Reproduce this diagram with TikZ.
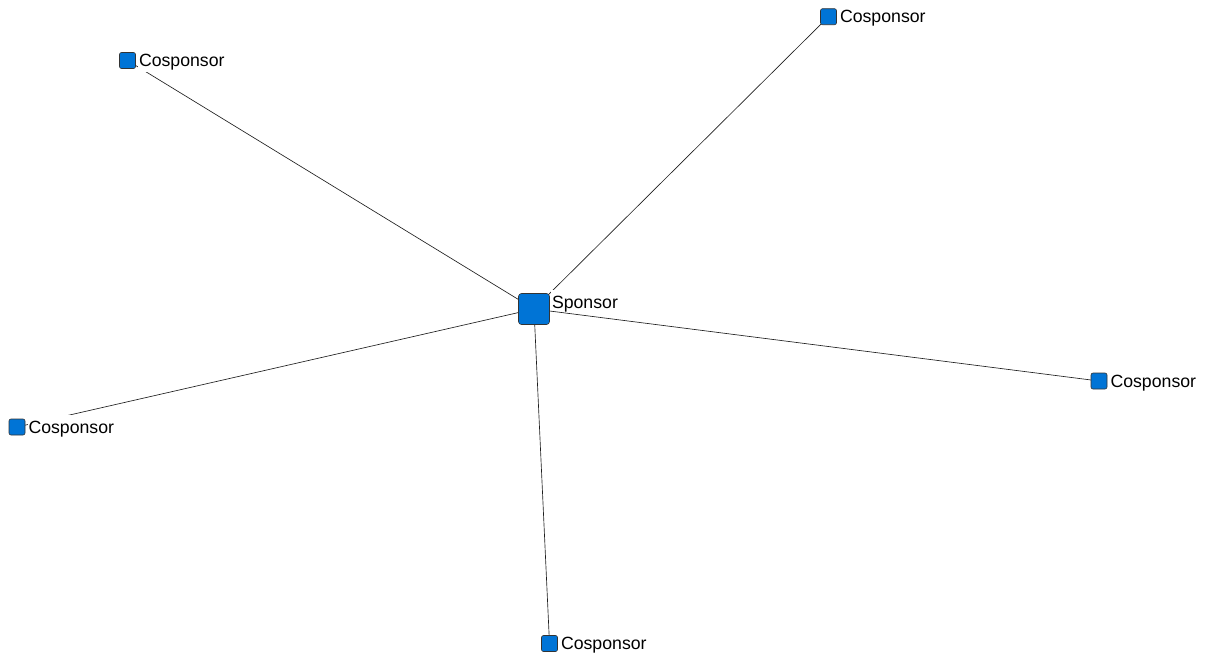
\documentclass[tikz,border=0pt]{standalone}
\usepackage{fontspec}
\setmainfont{Liberation Sans}
\usetikzlibrary{calc,backgrounds}
\definecolor{nodeblue}{RGB}{0,116,214}
\definecolor{edgegray}{RGB}{30,30,30}
\tikzset{
  actor/.style={rectangle, draw=black!80, line width=0.6pt, fill=nodeblue,
    inner sep=0pt, minimum size=16pt, rounded corners=2pt},
  lead/.style={actor, minimum size=31pt, rounded corners=3pt},
  tag/.style={anchor=base west, fill=white, font=\fontsize{17.7}{20}\selectfont,
    inner xsep=1pt, inner ysep=1.5pt, text height=17pt, text depth=3.6pt},
  tie/.style={draw=edgegray, line width=0.65pt}
}
\begin{document}
\begin{tikzpicture}[x=1pt,y=-1pt]
\useasboundingbox (0,0) rectangle (1205,657);

% squares
\node[lead]  (s)  at (534,309) {};
\node[actor] (c1) at (127.5,60.5) {};
\node[actor] (c2) at (828.5,16.7) {};
\node[actor] (c3) at (1099,381) {};
\node[actor] (c4) at (17,427) {};
\node[actor] (c5) at (549.5,643.5) {};

% ties from the sponsor to each cosponsor
\begin{scope}[on background layer]
  \foreach \c in {c1,c2,c3,c4,c5} \draw[tie] (s.center) -- (\c.center);
\end{scope}

% labels
\node[tag, text depth=0pt] (ls) at ($(s.east)+(1,-1)$) {Sponsor};
\foreach \c in {c1,c2,c3,c4,c5}
  \node[tag] (l\c) at ($(\c.east)+(2,6)$) {Cosponsor};
\end{tikzpicture}
\end{document}
